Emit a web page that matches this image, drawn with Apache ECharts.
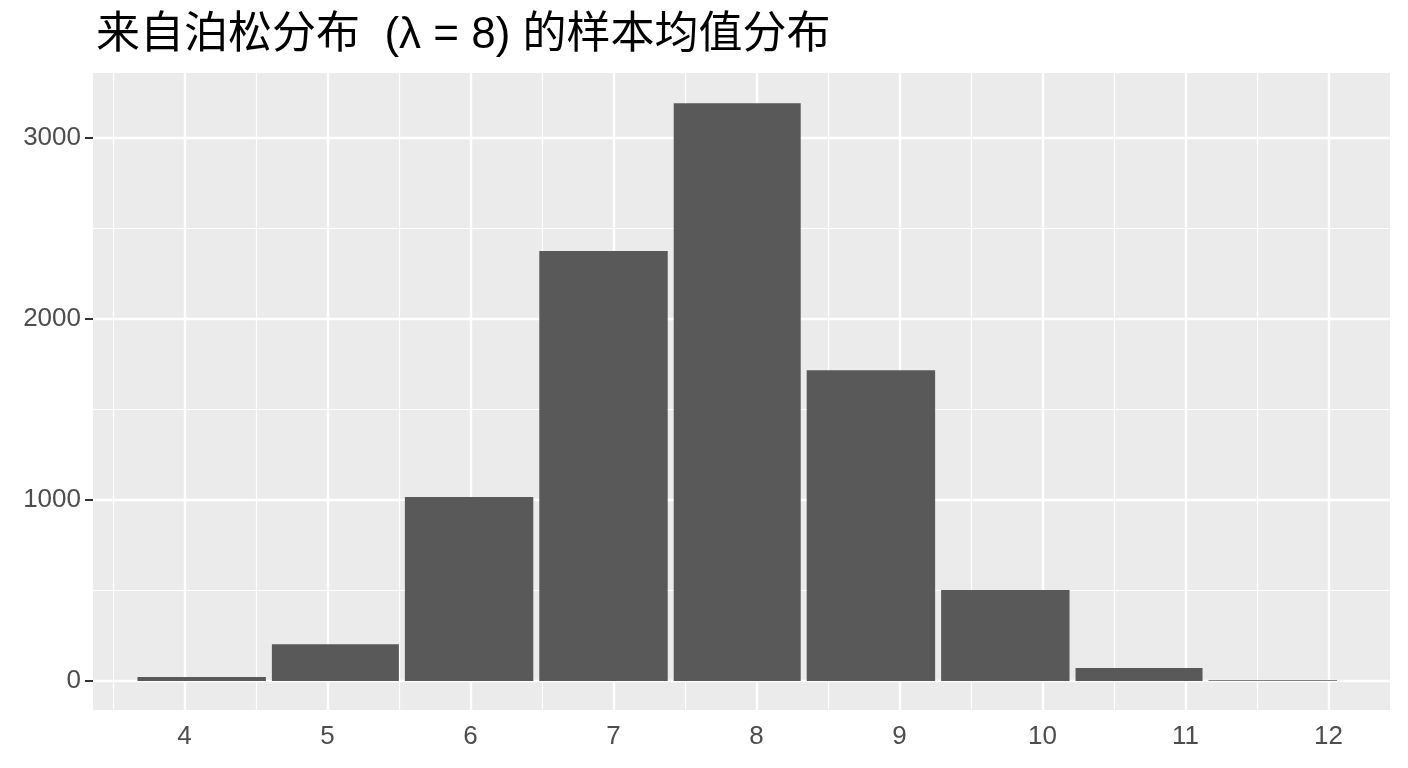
<!DOCTYPE html>
<html>
<head>
<meta charset="utf-8">
<script src="https://cdn.jsdelivr.net/npm/echarts@6/dist/echarts.min.js"></script>
<style>
    html, body { margin: 0; padding: 0; background: #fff; }
    #main { width: 1408px; height: 768px; }
</style>
</head>
<body>
<div id="main"></div>
<script>
// histogram bins
var binEdges = [3.65, 4.59, 5.52, 6.46, 7.40, 8.33, 9.27, 10.21, 11.14, 12.08];
var counts = [22, 204, 1017, 2376, 3193, 1718, 503, 72, 5];
var xTicks = [4, 5, 6, 7, 8, 9, 10, 11, 12];
var xMinor = [3.5, 4.5, 5.5, 6.5, 7.5, 8.5, 9.5, 10.5, 11.5];
var yTicks = [0, 1000, 2000, 3000];
var yMinor = [500, 1500, 2500];

var chartDom = document.getElementById('main');
var myChart = echarts.init(chartDom);
var option;

var bars = counts.map(function (c, i) {
    return [binEdges[i], binEdges[i + 1], c];
});

var gridLines = [];
xMinor.forEach(function (v) {
    gridLines.push({ xAxis: v, lineStyle: { width: 1.2 } });
});
xTicks.forEach(function (v) {
    gridLines.push({ xAxis: v, lineStyle: { width: 2.4 } });
});
yMinor.forEach(function (v) {
    gridLines.push({ yAxis: v, lineStyle: { width: 1.2 } });
});
yTicks.forEach(function (v) {
    gridLines.push({ yAxis: v, lineStyle: { width: 2.4 } });
});

option = {
    title: {
        text: '来自泊松分布  (λ = 8) 的样本均值分布',
        left: 91,
        top: 9,
        textStyle: {
            fontFamily: 'Liberation Sans, Noto Sans CJK SC',
            fontSize: 44,
            fontWeight: 'normal',
            color: '#000'
        }
    },
    grid: {
        left: 93,
        right: 18,
        top: 73,
        bottom: 58,
        show: true,
        backgroundColor: '#EBEBEB',
        borderWidth: 0
    },
    xAxis: {
        type: 'value',
        min: 3.36,
        max: 12.43,
        axisLine: { show: false },
        axisTick: {
            show: true,
            customValues: xTicks,
            length: 8,
            lineStyle: { color: '#333', width: 2 }
        },
        axisLabel: {
            customValues: xTicks,
            color: '#4D4D4D',
            fontSize: 26,
            margin: 14,
            fontFamily: 'Liberation Sans',
            formatter: function (value) {
                return String(value);
            }
        },
        splitLine: { show: false }
    },
    yAxis: {
        type: 'value',
        min: -160,
        max: 3360,
        axisLine: { show: false },
        axisTick: {
            show: true,
            customValues: yTicks,
            length: 8,
            lineStyle: { color: '#333', width: 2 }
        },
        axisLabel: {
            customValues: yTicks,
            color: '#4D4D4D',
            fontSize: 26,
            margin: 12,
            fontFamily: 'Liberation Sans',
            formatter: function (value) {
                return String(value);
            }
        },
        splitLine: { show: false }
    },
    series: [
        {
            type: 'line',
            data: [],
            z: 1,
            silent: true,
            markLine: {
                silent: true,
                z: 1,
                symbol: 'none',
                label: { show: false },
                lineStyle: { color: '#FFFFFF', type: 'solid' },
                animation: false,
                data: gridLines
            }
        },
        {
            type: 'custom',
            z: 3,
            data: bars,
            renderItem: function (params, api) {
                var top = api.coord([api.value(0), api.value(2)]);
                var bottom = api.coord([api.value(1), 0]);
                return {
                    type: 'rect',
                    shape: {
                        x: top[0] + 3,
                        y: top[1],
                        width: bottom[0] - top[0] - 6,
                        height: bottom[1] - top[1]
                    },
                    style: { fill: '#595959' }
                };
            }
        }
    ],
    animation: false
};

option && myChart.setOption(option);
</script>
</body>
</html>
